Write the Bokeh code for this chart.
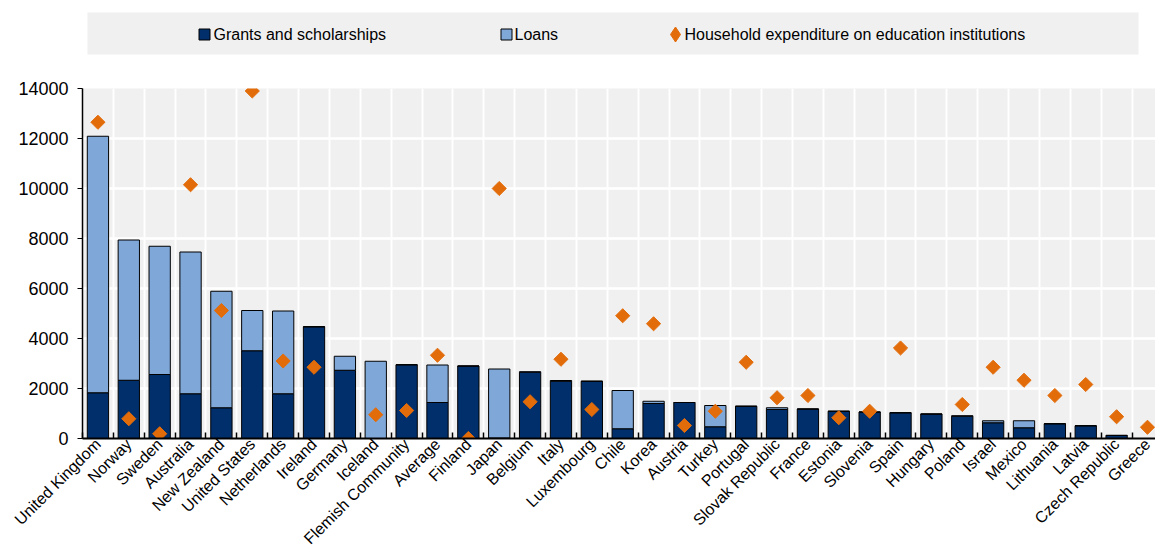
import math
from bokeh.plotting import figure
from bokeh.models import (Range1d, FixedTicker, ColumnDataSource)
from bokeh.core.properties import value
from bokeh.layouts import column
from bokeh.embed import file_html
from bokeh.resources import INLINE

countries = ["United Kingdom", "Norway", "Sweden", "Australia", "New Zealand", "United States",
             "Netherlands", "Ireland", "Germany", "Iceland", "Flemish Community", "Average",
             "Finland", "Japan", "Belgium", "Italy", "Luxembourg", "Chile", "Korea", "Austria",
             "Turkey", "Portugal", "Slovak Republic", "France", "Estonia", "Slovenia", "Spain",
             "Hungary", "Poland", "Israel", "Mexico", "Lithuania", "Latvia", "Czech Republic", "Greece"]
grants = [1830, 2330, 2560, 1790, 1230, 3510, 1790, 4470, 2730, 0, 2950, 1440,
          2900, 20, 2650, 2290, 2290, 390, 1400, 1440, 470, 1290, 1160, 1180, 1090,
          1060, 1030, 980, 890, 630, 430, 590, 510, 120, 0]
loans = [10260, 5610, 5130, 5670, 4660, 1610, 3310, 0, 560, 3090, 0, 1500,
         0, 2760, 20, 30, 0, 1530, 90, 0, 850, 0, 70, 0, 0,
         0, 0, 0, 20, 80, 280, 0, 0, 10, 0]
household = [12650, 790, 190, 10150, 5120, 13900, 3100, 2850, float("nan"), 950, 1120, 3330,
             0, 10000, 1470, 3170, 1160, 4910, 4590, 520, 1090, 3050, 1630, 1720, 830,
             1090, 3620, float("nan"), 1360, 2850, 2330, 1720, 2160, 870, 450]
y_ticks = [0, 2000, 4000, 6000, 8000, 10000, 12000, 14000]
legend_labels = ["Grants and scholarships", "Loans", "Household expenditure on education institutions"]

NAVY = "#002F6C"
LIGHT = "#7FA8D9"
ORANGE = "#E36C0A"
BG = "#F0F0F0"
FONT = "Liberation Sans"

xs = list(range(len(countries)))
src = ColumnDataSource(dict(x=xs, grants=grants, loans=loans, hh=household))

# ---------- legend strip (frame coordinates = page pixels) ----------
lf = figure(width=1155, height=58, output_backend="svg", toolbar_location=None,
            x_axis_type=None, y_axis_type=None,
            min_border_left=82, min_border_right=0, min_border_top=0, min_border_bottom=0,
            background_fill_color="white", outline_line_color=None,
            x_range=Range1d(82, 1155), y_range=Range1d(58, 0))
lf.grid.visible = False
lf.quad(left=[87], right=[1138], top=[12], bottom=[54], fill_color=BG, line_color=None)
lf.rect(x=[204, 506], y=[34, 34], width=11, height=11, width_units="screen", height_units="screen",
        fill_color=[NAVY, LIGHT], line_color="black", line_width=1)
lf.scatter(x=[675], y=[34], marker="diamond", size=15, fill_color=ORANGE, line_color=ORANGE)
lf.text(x=[213, 514, 684], y=[34, 34, 34], text=legend_labels, text_baseline="middle",
        text_align="left", text_font=value(FONT), text_font_size="16px", text_color="black")

# ---------- main chart ----------
p = figure(width=1155, height=498, output_backend="svg", toolbar_location=None,
           x_range=Range1d(-0.5, 34.26), y_range=Range1d(0, 14000),
           min_border_left=82, min_border_right=0, min_border_top=30, min_border_bottom=117,
           background_fill_color=BG, outline_line_color=None)

p.vbar_stack(["grants", "loans"], x="x", width=0.69, color=[NAVY, LIGHT],
             line_color="black", line_width=1, source=src)
p.scatter(x="x", y="hh", marker="square", size=10, angle=math.pi / 4,
          fill_color=ORANGE, line_color=ORANGE, source=src)

bounds = [i + 0.5 for i in range(-1, len(countries))]
p.xaxis.ticker = FixedTicker(ticks=xs, minor_ticks=bounds)
p.xaxis.major_label_overrides = {i: c for i, c in enumerate(countries)}
p.xaxis.major_label_orientation = math.pi / 4
p.xaxis.major_tick_line_color = None
p.xaxis.major_tick_in = 0
p.xaxis.major_tick_out = 0
p.xaxis.minor_tick_in = 6
p.xaxis.minor_tick_out = 0
p.xaxis.minor_tick_line_color = "black"
p.xaxis.minor_tick_line_width = 1.5
p.xaxis.axis_line_color = "black"
p.xaxis.axis_line_width = 2
p.xaxis.major_label_text_font = FONT
p.xaxis.major_label_text_font_size = "16px"
p.xaxis.major_label_text_color = "black"
p.xaxis.major_label_standoff = 3

p.yaxis.ticker = FixedTicker(ticks=y_ticks)
p.yaxis.axis_line_color = "black"
p.yaxis.axis_line_width = 1.5
p.yaxis.major_tick_out = 5
p.yaxis.major_tick_in = 0
p.yaxis.major_tick_line_color = "black"
p.yaxis.minor_tick_line_color = None
p.yaxis.major_label_text_font = FONT
p.yaxis.major_label_text_font_size = "18px"
p.yaxis.major_label_text_color = "black"
p.yaxis.major_label_standoff = 9

p.xgrid.ticker = FixedTicker(ticks=bounds)
p.xgrid.grid_line_color = "white"
p.xgrid.grid_line_width = 2
p.ygrid.ticker = FixedTicker(ticks=y_ticks)
p.ygrid.grid_line_color = "white"
p.ygrid.grid_line_width = 2.5

layout = column(lf, p, spacing=0)
open("out.html", "w").write(file_html(layout, INLINE))
